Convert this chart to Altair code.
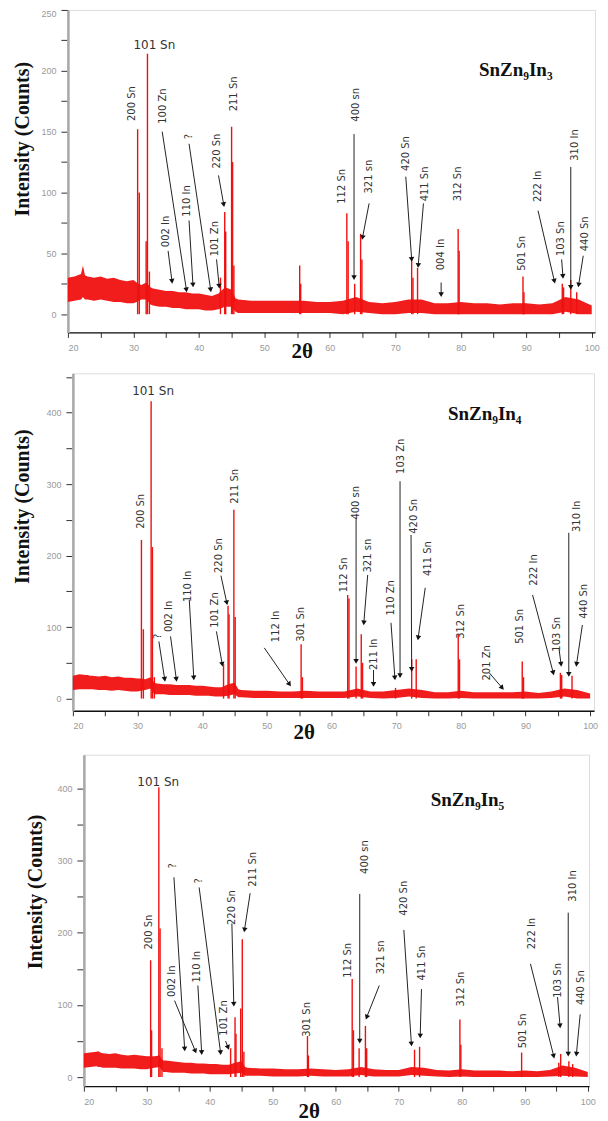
import math
import altair as alt
import pandas as pd

# ---------------- shared envelope x positions (2-theta) ----------------
ENV_X = [20, 21, 22, 22.3, 22.6, 23, 24, 25, 26, 27, 28, 29, 30,
         30.5, 31.2, 32, 32.6,
         33, 34, 35, 36, 37, 38, 39, 40, 41, 42, 43, 44, 45,
         45.6, 46,
         48, 50, 52, 54, 56, 58, 60, 62, 64, 66, 68, 70, 72, 74, 76, 78, 80,
         82, 84, 86, 88, 90, 92, 94, 96, 98, 100]

# ---------------- Panel 1 : SnZn9In3 ----------------
P1_LO = [10, 11, 12, 14, 12, 12, 11, 12, 11, 10, 10, 9, 9,
         10, 12, 12, 8,
         7, 6, 6, 5, 5, 4, 4, 4, 3, 3, 4, 6, 6,
         2, 1,
         1, 1, 1, 1, 1, 1, 1, 0, 2, 1, 0, 0, 1, 1, 0, 0, 0,
         0, 0, 0, 0, 0, 0, 0, 2, 0, 0]
P1_HI = [30, 31, 33, 40, 32, 31, 30, 31, 29, 30, 28, 27, 28,
         26, 24, 26, 22,
         21, 20, 19, 19, 18, 18, 17, 17, 16, 15, 17, 22, 20,
         13, 12,
         11, 11, 11, 11, 11, 10, 10, 11, 14, 10, 9, 10, 12, 12, 9, 9, 10,
         9, 9, 8, 9, 9, 8, 9, 14, 12, 7]
P1_PEAK_X = [30.65, 30.9, 31.95, 32.15, 32.45, 43.3, 43.95, 44.1, 45.0, 45.15, 45.35,
             55.4, 55.55, 62.6, 62.8, 63.8, 64.7, 64.9, 72.5, 72.7, 73.4, 79.6, 79.75,
             89.5, 89.65, 95.5, 95.7, 96.8, 97.7]
P1_PEAK_H = [152, 100, 60, 214, 35, 30, 84, 68, 154, 125, 40,
             40, 25, 83, 60, 25, 66, 45, 44, 30, 38, 70, 52,
             31, 18, 25, 22, 28, 18]
P1_LAB_T = ["200 Sn", "100 Zn", "?", "220 Sn", "211 Sn", "002 In", "110 In", "101 Zn",
            "400 sn", "112 Sn", "321 sn", "420 Sn", "411 Sn", "004 In", "312 Sn",
            "501 Sn", "222 In", "103 Sn", "310 In", "440 Sn"]
P1_LAB_X = [29.8, 34.6, 38.5, 42.7, 45.3, 35.0, 38.2, 42.4,
            64.0, 61.9, 66.0, 71.6, 74.6, 77.0, 79.6,
            89.4, 91.8, 95.3, 97.4, 98.9]
P1_LAB_Y = [173, 171, 146, 134, 181, 68, 93, 62,
            172, 105, 113, 132, 107, 49, 107,
            50, 105, 62, 139, 66]
P1_LEAD_X1 = [34.4, 38.5, 43.0, 35.3, 38.5, 42.7, 63.7, 66.0, 71.6, 74.3, 77.0, 91.8, 95.4, 96.8, 98.7]
P1_LEAD_Y1 = [150, 140, 114, 52, 77, 45, 148, 91, 113, 91, 26, 85, 45, 121, 48]
P1_LEAD_X2 = [38.1, 41.8, 43.8, 35.9, 39.1, 43.1, 63.7, 65.0, 72.5, 73.5, 77.0, 94.3, 95.6, 96.8, 98.0]
P1_LEAD_Y2 = [20, 20, 90, 27, 24, 23, 30, 63, 45, 40, 16, 27, 31, 22, 24]
P1_TOP = ("101 Sn", 33.2, 221)
P1_NAME = ("SnZn₉In₃", 88.4, 201)

# ---------------- Panel 2 : SnZn9In4 ----------------
P2_LO = [12, 13, 13, 13, 13, 13, 12, 12, 11, 12, 11, 10, 10,
         11, 12, 14, 6,
         6, 6, 5, 5, 5, 5, 4, 4, 4, 3, 3, 4, 6,
         2, 2,
         1, 1, 1, 1, 1, 1, 1, 1, 3, 1, 0, 1, 3, 1, 0, 0, 1,
         0, 0, 0, 0, 0, 0, 1, 3, 0, 0]
P2_HI = [32, 34, 33, 33, 32, 32, 31, 32, 30, 31, 29, 29, 28,
         28, 27, 30, 22,
         21, 20, 20, 19, 19, 19, 18, 18, 17, 16, 16, 20, 22,
         13, 12,
         11, 11, 10, 10, 11, 10, 10, 10, 14, 10, 10, 12, 14, 12, 9, 9, 11,
         9, 9, 9, 9, 10, 8, 10, 14, 12, 7]
P2_PEAK_X = [30.6, 30.9, 32.1, 32.3, 32.6, 43.3, 44.0, 44.15, 44.9, 45.1, 55.3, 55.5,
             62.5, 62.7, 63.8, 64.6, 64.8, 69.9, 72.4, 73.1, 79.6, 79.8, 89.5, 89.7,
             95.4, 95.6, 97.2]
P2_PEAK_H = [222, 97, 416, 212, 30, 48, 130, 118, 264, 114, 76, 30,
             145, 140, 45, 90, 50, 15, 55, 55, 90, 55, 52, 30,
             36, 33, 32]
P2_LAB_T = ["200 Sn", "?", "002 In", "110 In", "101 Zn", "220 Sn", "211 Sn", "112 In",
            "301 Sn", "112 Sn", "400 sn", "321 sn", "211 In", "110 Zn", "103 Zn",
            "420 Sn", "411 Sn", "312 Sn", "201 Zn", "501 Sn", "222 In", "103 Sn",
            "310 In", "440 Sn"]
P2_LAB_X = [30.5, 33.2, 34.9, 37.8, 42.0, 42.6, 45.0, 51.4,
            55.3, 62.0, 63.8, 65.6, 66.5, 69.2, 70.7,
            72.8, 75.0, 80.1, 84.0, 89.1, 91.3, 94.9,
            97.9, 99.1]
P2_LAB_Y = [262, 87, 115, 157, 124, 200, 297, 101,
            104, 173, 274, 200, 62, 141, 339,
            255, 196, 108, 50, 101, 180, 90,
            255, 136]
P2_LEAD_X1 = [33.3, 35.1, 38.0, 42.2, 42.9, 49.6, 63.8, 65.6, 66.5, 69.2, 70.6, 72.3, 74.5, 84.4, 91.1, 95.2, 96.7, 98.8]
P2_LEAD_Y1 = [80, 87, 138, 94, 172, 71, 253, 173, 40, 106, 304, 229, 155, 36, 145, 69, 232, 103]
P2_LEAD_X2 = [34.2, 36.0, 38.7, 43.1, 43.8, 53.5, 63.8, 65.0, 66.5, 69.8, 70.6, 72.4, 73.4, 86.4, 94.3, 95.5, 96.7, 97.9]
P2_LEAD_Y2 = [27, 27, 29, 48, 134, 20, 52, 106, 20, 29, 32, 41, 85, 15, 36, 48, 34, 48]
P2_TOP = ("101 Sn", 32.4, 430)
P2_NAME = ("SnZn₉In₄", 83.7, 398)

# ---------------- Panel 3 : SnZn9In5 ----------------
P3_LO = [13, 14, 15, 14, 14, 13, 13, 13, 12, 12, 12, 11, 11,
         12, 13, 14, 7,
         7, 6, 6, 6, 5, 5, 5, 4, 4, 4, 4, 5, 6,
         2, 2,
         2, 1, 1, 1, 2, 1, 1, 1, 3, 1, 1, 1, 3, 2, 1, 0, 1,
         0, 0, 0, 0, 0, 0, 1, 2, 1, 0]
P3_HI = [33, 34, 35, 36, 34, 33, 32, 33, 31, 30, 31, 30, 29,
         29, 29, 30, 23,
         23, 22, 21, 20, 20, 19, 19, 18, 18, 17, 17, 20, 22,
         14, 13,
         12, 12, 11, 11, 12, 11, 10, 11, 14, 11, 10, 10, 14, 13, 10, 9, 11,
         9, 9, 9, 8, 9, 8, 10, 16, 13, 7]
P3_PEAK_X = [30.6, 30.75, 31.9, 32.1, 32.4, 43.3, 44.0, 44.15, 44.9, 45.15, 45.4,
             55.5, 55.65, 62.6, 62.8, 63.7, 64.7, 64.9, 72.5, 73.3, 79.7, 79.85,
             89.5, 95.4, 95.7, 97.0, 97.6]
P3_PEAK_H = [162, 65, 402, 206, 40, 40, 83, 60, 95, 191, 35,
             57, 30, 136, 65, 40, 71, 40, 38, 42, 80, 45,
             34, 20, 32, 22, 18]
P3_LAB_T = ["200 Sn", "?", "?", "002 In", "110 In", "101 Zn", "220 Sn", "211 Sn",
            "301 Sn", "112 Sn", "400 sn", "321 sn", "420 Sn", "411 Sn", "312 Sn",
            "501 Sn", "222 In", "103 Sn", "310 In", "440 Sn"]
P3_LAB_X = [30.4, 34.2, 38.3, 34.0, 38.0, 42.3, 43.5, 46.9,
            55.5, 62.0, 64.7, 67.2, 70.9, 73.7, 79.8,
            89.7, 91.2, 95.2, 97.7, 98.9]
P3_LAB_Y = [201, 293, 272, 133, 153, 82, 235, 288,
            80, 162, 305, 166, 248, 158, 122,
            64, 199, 134, 265, 124]
P3_LEAD_X1 = [34.3, 38.3, 34.4, 38.1, 42.5, 43.5, 46.4, 63.8, 66.9, 70.8, 73.6, 90.9, 95.2, 96.9, 98.8]
P3_LEAD_Y1 = [277, 263, 106, 127, 50, 213, 255, 254, 127, 204, 122, 157, 111, 228, 87]
P3_LEAD_X2 = [36.0, 41.7, 37.7, 38.7, 42.9, 43.8, 45.5, 63.8, 64.9, 72.0, 73.4, 94.6, 95.6, 96.9, 98.2]
P3_LEAD_Y2 = [39, 34, 36, 34, 41, 101, 204, 50, 83, 46, 57, 29, 71, 32, 32]
P3_TOP = ("101 Sn", 31.8, 409)
P3_NAME = ("SnZn₉In₅", 80.9, 384)

RED = "#f01010"


def panel(env_lo, env_hi, pk_x, pk_h, lab_t, lab_x, lab_y,
          lx1, ly1, lx2, ly2, top, name,
          width, height, xdom, ydom, ystep, ylabstep, yvals_max,
          plot_left, title_cx, title_cy, xtitle_y):
    xs = alt.Scale(domain=xdom, nice=False, zero=False)
    ys = alt.Scale(domain=ydom, nice=False, zero=False)
    px_x = width / (xdom[1] - xdom[0])
    px_y = height / (ydom[1] - ydom[0])
    xaxis = alt.Axis(values=list(range(20, 101, 5)),
                     labelExpr="datum.value % 10 == 0 ? datum.label : ''",
                     labelFontSize=9, labelColor="#999", labelFont="Liberation Sans",
                     labelPadding=6, tickSize=5, tickColor="#333", grid=False,
                     domainColor="#111", domainWidth=1.4,
                     title="2θ", titleFont="Liberation Serif", titleFontSize=21,
                     titleFontWeight="bold", titleColor="#111",
                     titleX=(55.7 - xdom[0]) * px_x, titleY=xtitle_y,
                     titleBaseline="middle", titleAlign="center")
    yaxis = alt.Axis(values=list(range(0, yvals_max + 1, ystep)),
                     labelExpr="datum.value % " + str(ylabstep) + " == 0 ? datum.label : ''",
                     labelFontSize=9, labelColor="#999", labelFont="Liberation Sans",
                     labelPadding=5, tickSize=7, tickColor="#333", grid=False,
                     labelFlush=1,
                     domainColor="#aaa", domainWidth=2.6,
                     title="Intensity (Counts)", titleFont="Liberation Serif",
                     titleFontSize=20, titleFontWeight="bold", titleColor="#111",
                     titleAngle=270, titleX=title_cx - plot_left, titleY=title_cy,
                     titleBaseline="middle", titleAlign="center")

    def X(f):
        return alt.X(f, type="quantitative", scale=xs, axis=xaxis)

    def Y(f):
        return alt.Y(f, type="quantitative", scale=ys, axis=yaxis)

    env = pd.DataFrame({"x": ENV_X, "lo": env_lo, "hi": env_hi})
    band = alt.Chart(env).mark_area(color=RED, opacity=0.95).encode(
        x=X("x"), y=Y("lo"), y2="hi")

    pk = pd.DataFrame({"x": pk_x, "h": pk_h})
    peaks = alt.Chart(pk).mark_rule(color=RED, strokeWidth=1.4).encode(
        x=X("x"), y=Y("h"), y2=alt.datum(0))

    angs = []
    for a, b, c, d in zip(lx1, ly1, lx2, ly2):
        dxp = (c - a) * px_x
        dyp = (b - d) * px_y
        angs.append(math.degrees(math.atan2(-dxp, dyp)) % 360)
    ld = pd.DataFrame({"x1": lx1, "y1": ly1, "x2": lx2, "y2": ly2, "ang": angs})
    leads = alt.Chart(ld).mark_rule(color="#222", strokeWidth=1).encode(
        x=X("x1"), y=Y("y1"), x2="x2", y2="y2")
    heads = alt.Chart(ld).mark_point(shape="triangle-down", filled=True,
                                     color="#111", size=30, opacity=1).encode(
        x=X("x2"), y=Y("y2"), angle=alt.Angle("ang:Q", scale=None))

    lb = pd.DataFrame({"t": lab_t, "x": lab_x, "y": lab_y})
    labels = alt.Chart(lb).mark_text(angle=270, align="center", baseline="middle",
                                     font="DejaVu Sans", fontSize=10,
                                     color="#333").encode(
        x=X("x"), y=Y("y"), text="t:N")

    tp = pd.DataFrame({"t": [top[0]], "x": [top[1]], "y": [top[2]]})
    toplab = alt.Chart(tp).mark_text(align="center", baseline="middle",
                                     font="DejaVu Sans", fontSize=12,
                                     color="#333").encode(
        x=X("x"), y=Y("y"), text="t:N")

    nm = pd.DataFrame({"t": [name[0]], "x": [name[1]], "y": [name[2]]})
    namelab = alt.Chart(nm).mark_text(align="center", baseline="middle",
                                      font="Liberation Serif", fontSize=19,
                                      fontWeight="bold", color="#111").encode(
        x=X("x"), y=Y("y"), text="t:N")

    return alt.layer(band, peaks, leads, heads, labels, toplab, namelab).properties(
        width=width, height=height)


def spacer(w):
    return alt.Chart(pd.DataFrame({"v": [0]})).mark_point(size=0, opacity=0).encode(
        x=alt.value(0), y=alt.value(0)
    ).properties(width=w, height=2, view=alt.ViewBackground(stroke=None))


p1 = panel(P1_LO, P1_HI, P1_PEAK_X, P1_PEAK_H, P1_LAB_T, P1_LAB_X, P1_LAB_Y,
           P1_LEAD_X1, P1_LEAD_Y1, P1_LEAD_X2, P1_LEAD_Y2, P1_TOP, P1_NAME,
           width=528, height=323, xdom=[20, 100.5], ydom=[-15, 250],
           ystep=25, ylabstep=50, yvals_max=250,
           plot_left=66.7, title_cx=21, title_cy=129, xtitle_y=19)
p2 = panel(P2_LO, P2_HI, P2_PEAK_X, P2_PEAK_H, P2_LAB_T, P2_LAB_X, P2_LAB_Y,
           P2_LEAD_X1, P2_LEAD_Y1, P2_LEAD_X2, P2_LEAD_Y2, P2_TOP, P2_NAME,
           width=522, height=338, xdom=[20, 100.6], ydom=[-17, 455],
           ystep=50, ylabstep=100, yvals_max=450,
           plot_left=71.7, title_cx=21, title_cy=133, xtitle_y=22)
p3 = panel(P3_LO, P3_HI, P3_PEAK_X, P3_PEAK_H, P3_LAB_T, P3_LAB_X, P3_LAB_Y,
           P3_LEAD_X1, P3_LEAD_Y1, P3_LEAD_X2, P3_LEAD_Y2, P3_TOP, P3_NAME,
           width=506, height=332, xdom=[20, 100.2], ydom=[-12.5, 447],
           ystep=50, ylabstep=100, yvals_max=400,
           plot_left=83.3, title_cx=35, title_cy=137, xtitle_y=25)

row1 = alt.hconcat(spacer(3), p1, spacing=0)
row2 = alt.hconcat(spacer(3), p2, spacing=0)
row3 = alt.hconcat(spacer(17), p3, spacing=0)

chart = alt.vconcat(row1, row2, row3, spacing=10).properties(
    padding=0
).configure_view(stroke="#555", strokeWidth=1.5).configure(background="white")

chart.save("out.html", embed_options={"renderer": "svg", "actions": False})
